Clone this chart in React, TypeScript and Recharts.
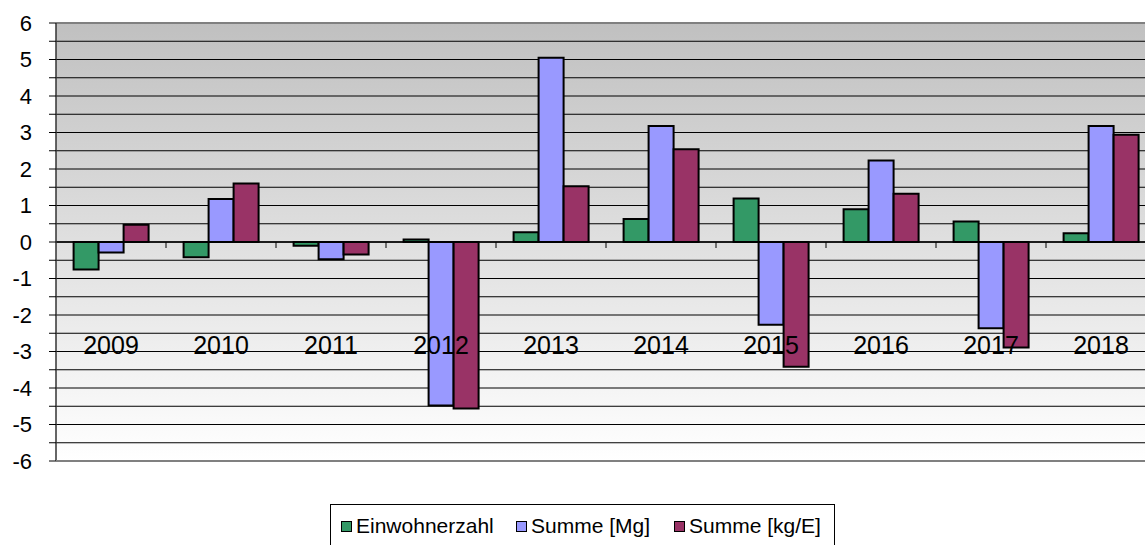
import React from "react";
import {
  BarChart,
  Bar,
  XAxis,
  YAxis,
  CartesianGrid,
  ReferenceLine
} from "recharts";

const years = ["2009", "2010", "2011", "2012", "2013", "2014", "2015", "2016", "2017", "2018"];
const einwohnerzahl = [-0.75, -0.42, -0.1, 0.07, 0.27, 0.63, 1.19, 0.9, 0.56, 0.24];
const summeMg = [-0.29, 1.18, -0.47, -4.48, 5.05, 3.18, -2.27, 2.23, -2.36, 3.18];
const summeKgE = [0.47, 1.6, -0.34, -4.56, 1.53, 2.54, -3.42, 1.32, -2.89, 2.94];
const yTicks = [-6, -5.5, -5, -4.5, -4, -3.5, -3, -2.5, -2, -1.5, -1, -0.5, 0, 0.5, 1, 1.5, 2, 2.5, 3, 3.5, 4, 4.5, 5, 5.5, 6];

const series = [
  { key: "einwohnerzahl", name: "Einwohnerzahl", color: "#339966" },
  { key: "summeMg", name: "Summe [Mg]", color: "#9999FF" },
  { key: "summeKgE", name: "Summe [kg/E]", color: "#993366" }
];

const data = years.map((year, i) => ({
  year,
  einwohnerzahl: einwohnerzahl[i],
  summeMg: summeMg[i],
  summeKgE: summeKgE[i]
}));

const FONT = "Arial, 'Liberation Sans', sans-serif";

// year labels sit inside the plot, plus the little boundary ticks on the zero line
const renderYearTick = (props: any) => {
  const { x, y, payload } = props;
  return (
    <g key={`yt-${payload.value}`}>
      <line x1={x + 55} x2={x + 55} y1={y - 219} y2={y - 213} stroke="#000" strokeWidth={1} />
      <text x={x} y={y - 107} textAnchor="middle" fontSize={25} fontFamily={FONT} fill="#000">
        {payload.value}
      </text>
    </g>
  );
};

export default function App() {
  return (
    <div style={{ position: "absolute", left: 0, top: 0, width: 1145, height: 545, overflow: "hidden", background: "#fff" }}>
      <BarChart
        width={1160}
        height={545}
        data={data}
        margin={{ top: 23, right: 4, left: 0, bottom: 83 }}
        barCategoryGap="16%"
        barGap={0}
      >
        <defs>
          <linearGradient id="plotBg" x1="0" y1="0" x2="0" y2="1">
            <stop offset="0%" stopColor="#c0c0c0" />
            <stop offset="100%" stopColor="#ffffff" />
          </linearGradient>
        </defs>
        <CartesianGrid vertical={false} stroke="#000" fill="url(#plotBg)" fillOpacity={1} />
        <YAxis
          width={56}
          domain={[-6, 6]}
          ticks={yTicks}
          interval={0}
          tickSize={7}
          tickMargin={17}
          tickLine={{ stroke: "#000" }}
          axisLine={{ stroke: "#333", strokeWidth: 1.5 }}
          tickFormatter={(v: number) => (Number.isInteger(v) ? String(v) : "")}
          tick={{ fontSize: 22, fontFamily: FONT, fill: "#000" }}
        />
        <ReferenceLine y={6} stroke="#808080" strokeWidth={2} />
        <ReferenceLine y={0} stroke="#000" strokeWidth={1.5} />
        {series.map(s => (
          <Bar
            key={s.key}
            dataKey={s.key}
            name={s.name}
            fill={s.color}
            stroke="#000"
            strokeWidth={2}
            isAnimationActive={false}
          />
        ))}
        <XAxis
          dataKey="year"
          height={1}
          tickSize={0}
          tickMargin={0}
          tickLine={false}
          axisLine={{ stroke: "#808080", strokeWidth: 2 }}
          tick={renderYearTick}
          interval={0}
        />
      </BarChart>
      <div
        style={{
          position: "absolute",
          left: 330,
          top: 504,
          width: 505,
          height: 60,
          border: "1px solid #000",
          boxSizing: "border-box",
          fontFamily: FONT,
          fontSize: 21,
          color: "#000"
        }}
      >
        {series.map((s, i) => (
          <div
            key={s.key}
            style={{
              position: "absolute",
              left: [10, 185, 343][i],
              top: 9,
              display: "flex",
              alignItems: "center",
              whiteSpace: "nowrap"
            }}
          >
            <span
              style={{
                display: "inline-block",
                width: 9,
                height: 9,
                background: s.color,
                border: "1.5px solid #000",
                marginRight: 4
              }}
            />
            {s.name}
          </div>
        ))}
      </div>
    </div>
  );
}
